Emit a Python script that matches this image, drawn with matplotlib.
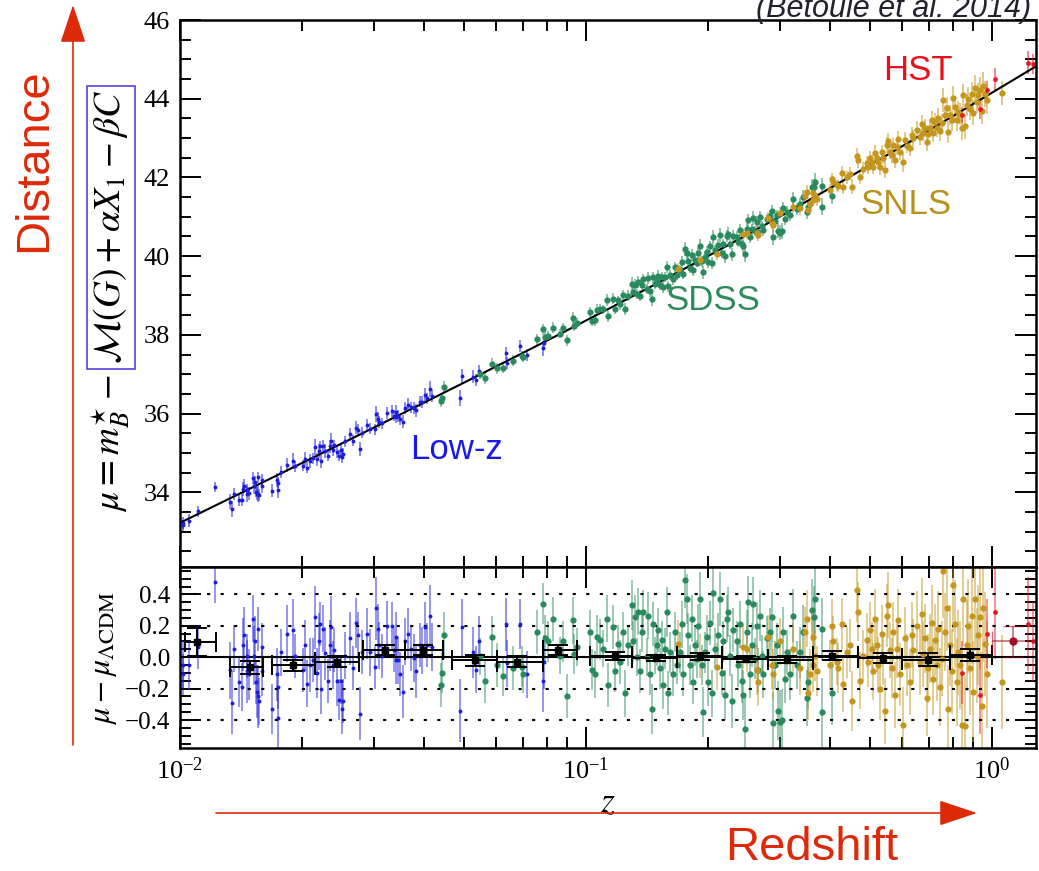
import numpy as np
import matplotlib
matplotlib.use("Agg")
import matplotlib.pyplot as plt
from matplotlib.ticker import MultipleLocator, NullFormatter
from matplotlib.colors import to_rgba

plt.rcParams["font.family"] = "serif"
plt.rcParams["font.serif"] = ["Liberation Serif", "DejaVu Serif"]
plt.rcParams["mathtext.fontset"] = "stix"

# Low-z sample: redshift, Hubble residual, error
lowz_z = [0.0102, 0.0102, 0.0105, 0.0111, 0.0122, 0.0133, 0.0134, 0.0136, 0.0140, 0.0142,
          0.0143, 0.0144, 0.0146, 0.0146, 0.0148, 0.0151, 0.0152, 0.0153, 0.0154, 0.0155,
          0.0156, 0.0156, 0.0157, 0.0159, 0.0159, 0.0169, 0.0173, 0.0174, 0.0174, 0.0177,
          0.0183, 0.0190, 0.0192, 0.0201, 0.0203, 0.0205, 0.0209, 0.0213, 0.0215, 0.0218,
          0.0220, 0.0221, 0.0223, 0.0225, 0.0227, 0.0232, 0.0234, 0.0236, 0.0238, 0.0240,
          0.0244, 0.0246, 0.0249, 0.0250, 0.0252, 0.0255, 0.0263, 0.0267, 0.0272, 0.0274,
          0.0277, 0.0280, 0.0289, 0.0293, 0.0302, 0.0304, 0.0307, 0.0310, 0.0314, 0.0324,
          0.0332, 0.0337, 0.0341, 0.0340, 0.0345, 0.0348, 0.0355, 0.0358, 0.0365, 0.0370,
          0.0376, 0.0381, 0.0389, 0.0394, 0.0401, 0.0405, 0.0414, 0.0417, 0.0490, 0.0494,
          0.0528, 0.0536, 0.0546, 0.0634, 0.0638, 0.0688, 0.0714, 0.0785, 0.0788]
lowz_res = [-0.05, -0.11, -0.05, 0.065, 0.478, -0.083, -0.29, 0.055, -0.157, -0.19,
            0.08, 0.14, -0.09, 0.01, -0.11, 0.245, 0.01, 0.10, -0.16, -0.22,
            0.18, -0.25, -0.28, -0.09, 0.065, -0.33, -0.11, -0.19, -0.39, 0.03,
            0.15, 0.17, 0.01, -0.08, 0.075, -0.17, -0.05, -0.02, 0.255, -0.10,
            0.10, 0.21, -0.20, 0.18, 0.025, -0.15, 0.075, 0.19, -0.05, 0.045,
            -0.15, -0.27, -0.15, -0.33, -0.28, 0.01, 0.12, -0.07, 0.22, 0.14,
            -0.36, 0.03, 0.15, 0.03, -0.06, 0.31, 0.18, 0.075, 0.01, 0.20,
            0.20, 0.045, -0.02, 0.13, -0.02, -0.11, -0.22, 0.10, 0.15, 0.055,
            -0.005, -0.09, 0.075, 0.045, 0.19, 0.075, 0.26, 0.065, -0.34, 0.19,
            0.03, -0.08, 0.10, 0.21, -0.04, 0.21, -0.11, -0.15, -0.03]
lowz_err = [0.15, 0.13, 0.16, 0.14, 0.13, 0.18, 0.20, 0.15, 0.16, 0.15,
            0.17, 0.18, 0.20, 0.14, 0.16, 0.15, 0.19, 0.16, 0.14, 0.17,
            0.14, 0.20, 0.15, 0.16, 0.15, 0.16, 0.17, 0.14, 0.20, 0.15,
            0.18, 0.20, 0.14, 0.14, 0.16, 0.15, 0.17, 0.14, 0.20, 0.16,
            0.18, 0.14, 0.16, 0.15, 0.17, 0.14, 0.16, 0.20, 0.15, 0.14,
            0.16, 0.13, 0.15, 0.16, 0.14, 0.15, 0.17, 0.14, 0.16, 0.15,
            0.17, 0.14, 0.16, 0.15, 0.14, 0.20, 0.16, 0.15, 0.14, 0.16,
            0.15, 0.14, 0.15, 0.16, 0.15, 0.14, 0.17, 0.15, 0.16, 0.14,
            0.15, 0.17, 0.14, 0.15, 0.16, 0.14, 0.20, 0.15, 0.20, 0.18,
            0.16, 0.15, 0.16, 0.17, 0.15, 0.16, 0.15, 0.20, 0.17]

# SDSS sample
sdss_z = [0.0439, 0.0441, 0.0446, 0.0548, 0.0564, 0.0586, 0.0603, 0.0626, 0.0662, 0.0695,
          0.0699, 0.0757, 0.0782, 0.0793, 0.0808, 0.0831, 0.0863, 0.0879, 0.0897, 0.0927,
          0.0934, 0.0949, 0.1023, 0.1033, 0.1052, 0.1062, 0.1083, 0.1103, 0.1124, 0.1135,
          0.1168, 0.1179, 0.1202, 0.1213, 0.1236, 0.1248, 0.1272, 0.1296, 0.1308, 0.1320,
          0.1333, 0.1345, 0.1358, 0.1371, 0.1384, 0.1410, 0.1423, 0.1437, 0.1451, 0.1465,
          0.1479, 0.1493, 0.1507, 0.1522, 0.1536, 0.1551, 0.1565, 0.1580, 0.1595, 0.1610,
          0.1641, 0.1657, 0.1672, 0.1704, 0.1721, 0.1737, 0.1754, 0.1770, 0.1786, 0.1804,
          0.1821, 0.1838, 0.1855, 0.1873, 0.1891, 0.1909, 0.1927, 0.1945, 0.1963, 0.1982,
          0.2001, 0.2020, 0.2039, 0.2058, 0.2078, 0.2117, 0.2138, 0.2158, 0.2178, 0.2199,
          0.2220, 0.2241, 0.2262, 0.2284, 0.2306, 0.2350, 0.2372, 0.2395, 0.2418, 0.2440,
          0.2464, 0.2487, 0.2511, 0.2534, 0.2558, 0.2583, 0.2607, 0.2632, 0.2657, 0.2682,
          0.2707, 0.2733, 0.2785, 0.2839, 0.2866, 0.2893, 0.2921, 0.2948, 0.2976, 0.3005,
          0.3033, 0.3062, 0.3091, 0.3120, 0.3180, 0.3241, 0.3303, 0.3366, 0.3430, 0.3496,
          0.3529, 0.3596, 0.3643, 0.3664, 0.3805, 0.3805, 0.4028]
sdss_res = [-0.18, -0.10, 0.14, 0.005, -0.15, 0.13, -0.05, -0.12, -0.07, -0.06,
            -0.11, 0.16, 0.34, 0.12, 0.10, 0.245, 0.01, 0.10, -0.25, 0.235,
            0.02, 0.065, 0.16, -0.08, -0.11, 0.13, 0.11, 0.055, 0.245, -0.18,
            0.19, -0.09, 0.085, -0.03, 0.16, -0.23, 0.075, 0.33, 0.10, 0.255,
            0.0, 0.29, -0.09, 0.16, 0.29, 0.0, 0.265, -0.11, -0.33, 0.21,
            0.01, 0.075, 0.17, -0.07, 0.11, -0.18, 0.055, 0.29, -0.23, 0.03,
            -0.11, 0.16, -0.05, 0.03, 0.21, -0.11, 0.49, 0.37, 0.14, -0.05,
            0.245, -0.16, 0.075, -0.01, 0.20, 0.37, -0.05, -0.35, 0.03, 0.13,
            -0.16, 0.22, -0.23, 0.41, 0.055, 0.14, 0.37, -0.10, 0.10, -0.24,
            0.245, 0.29, 0.01, -0.28, 0.17, 0.10, -0.05, 0.21, -0.15, -0.24,
            -0.46, 0.16, 0.35, -0.11, 0.075, 0.34, -0.01, 0.20, -0.08, 0.265,
            0.01, -0.11, 0.12, 0.16, 0.255, -0.42, -0.05, 0.075, -0.34, -0.41,
            -0.40, 0.16, -0.14, 0.03, -0.11, 0.265, -0.05, 0.03, 0.16, -0.26,
            -0.16, 0.30, 0.255, 0.37, 0.18, -0.35, -0.23]
sdss_err = [0.14, 0.13, 0.15, 0.12, 0.14, 0.13, 0.14, 0.13, 0.14, 0.13,
            0.12, 0.14, 0.13, 0.15, 0.13, 0.14, 0.12, 0.13, 0.14, 0.15,
            0.13, 0.12, 0.14, 0.13, 0.15, 0.14, 0.13, 0.12, 0.15, 0.14,
            0.14, 0.13, 0.12, 0.14, 0.13, 0.15, 0.13, 0.16, 0.13, 0.14,
            0.12, 0.15, 0.14, 0.13, 0.14, 0.12, 0.15, 0.13, 0.16, 0.14,
            0.12, 0.13, 0.14, 0.13, 0.12, 0.15, 0.13, 0.16, 0.14, 0.13,
            0.14, 0.13, 0.12, 0.13, 0.15, 0.14, 0.18, 0.16, 0.14, 0.13,
            0.15, 0.14, 0.13, 0.12, 0.14, 0.17, 0.13, 0.16, 0.13, 0.14,
            0.15, 0.14, 0.15, 0.18, 0.13, 0.14, 0.17, 0.14, 0.13, 0.16,
            0.15, 0.16, 0.13, 0.17, 0.14, 0.13, 0.14, 0.15, 0.14, 0.16,
            0.20, 0.14, 0.17, 0.15, 0.14, 0.17, 0.13, 0.15, 0.14, 0.16,
            0.13, 0.15, 0.14, 0.15, 0.16, 0.20, 0.15, 0.14, 0.19, 0.20,
            0.20, 0.16, 0.15, 0.14, 0.16, 0.17, 0.15, 0.16, 0.17, 0.18,
            0.17, 0.20, 0.20, 0.22, 0.20, 0.22, 0.20]

# SNLS sample
snls_z = [0.1688, 0.1909, 0.2098, 0.2440, 0.2487, 0.2632, 0.2657, 0.2811, 0.2866, 0.2893,
          0.3005, 0.3241, 0.3366, 0.3463, 0.3496, 0.3529, 0.3563, 0.3630, 0.3664, 0.3630,
          0.3699, 0.3990, 0.4028, 0.4066, 0.4144, 0.4183, 0.4263, 0.4303, 0.4385, 0.4469,
          0.4511, 0.4640, 0.4684, 0.4729, 0.4819, 0.4911, 0.4958, 0.5005, 0.5052, 0.5100,
          0.5148, 0.5197, 0.5248, 0.5297, 0.5347, 0.5398, 0.5449, 0.5501, 0.5553, 0.5606,
          0.5659, 0.5713, 0.5768, 0.5822, 0.5878, 0.5934, 0.6048, 0.6105, 0.6163, 0.6281,
          0.6340, 0.6400, 0.6522, 0.6646, 0.6709, 0.6773, 0.6837, 0.6902, 0.6967, 0.7034,
          0.7100, 0.7168, 0.7236, 0.7304, 0.7373, 0.7443, 0.7514, 0.7586, 0.7659, 0.7731,
          0.7805, 0.7879, 0.7954, 0.8029, 0.8106, 0.8183, 0.8260, 0.8339, 0.8418, 0.8498,
          0.8579, 0.8660, 0.8742, 0.8825, 0.8909, 0.8994, 0.9079, 0.9166, 0.9254, 0.9342,
          0.9430, 0.9519, 0.9610, 0.9701, 1.0560]
snls_res = [0.085, 0.01, -0.06, 0.065, 0.055, -0.08, -0.16, 0.13, -0.05, -0.11,
            0.10, 0.055, -0.07, 0.16, 0.245, -0.23, -0.11, 0.13, 0.01, -0.05,
            -0.09, -0.05, 0.20, 0.10, -0.03, -0.07, 0.21, -0.17, 0.03, 0.075,
            -0.28, 0.425, 0.29, -0.15, 0.01, 0.11, -0.03, 0.17, 0.055, -0.09,
            0.245, 0.075, -0.05, -0.20, 0.15, -0.01, -0.34, 0.265, 0.33, 0.045,
            -0.07, 0.16, -0.24, 0.055, 0.235, -0.11, -0.43, 0.12, -0.05, -0.16,
            0.14, 0.045, 0.20, -0.03, 0.275, 0.02, 0.12, -0.26, -0.07, 0.055,
            0.22, -0.14, 0.11, -0.05, 0.18, -0.19, -0.01, 0.55, 0.16, 0.31,
            -0.33, 0.075, -0.09, 0.46, 0.21, -0.16, 0.03, -0.05, -0.43, 0.37,
            -0.44, 0.075, 0.20, -0.07, 0.265, -0.22, 0.37, 0.01, 0.14, 0.255,
            -0.31, 0.31, 0.085, -0.11, -0.16]
snls_err = [0.15, 0.14, 0.15, 0.14, 0.15, 0.16, 0.15, 0.14, 0.15, 0.16,
            0.15, 0.16, 0.17, 0.16, 0.18, 0.17, 0.16, 0.17, 0.16, 0.17,
            0.16, 0.16, 0.17, 0.16, 0.15, 0.16, 0.17, 0.18, 0.16, 0.17,
            0.19, 0.20, 0.19, 0.18, 0.16, 0.17, 0.16, 0.18, 0.17, 0.18,
            0.19, 0.17, 0.18, 0.20, 0.18, 0.17, 0.21, 0.20, 0.21, 0.18,
            0.19, 0.19, 0.21, 0.19, 0.20, 0.20, 0.24, 0.20, 0.20, 0.21,
            0.21, 0.20, 0.22, 0.21, 0.23, 0.21, 0.22, 0.24, 0.22, 0.22,
            0.24, 0.23, 0.23, 0.23, 0.24, 0.25, 0.24, 0.30, 0.25, 0.27,
            0.28, 0.26, 0.27, 0.30, 0.28, 0.28, 0.27, 0.28, 0.32, 0.30,
            0.32, 0.29, 0.30, 0.30, 0.31, 0.32, 0.33, 0.30, 0.32, 0.33,
            0.34, 0.34, 0.33, 0.34, 0.30]

# HST sample
hst_z = [0.842, 0.934, 0.970, 1.017, 1.229, 1.264]
hst_res = [-0.10, -0.24, 0.15, 0.29, 0.21, 0.10]
hst_err = [0.20, 0.25, 0.22, 0.30, 0.30, 0.25]

# binned residuals
bin_z = [0.0110, 0.01486, 0.01897, 0.0244, 0.0320, 0.0397, 0.0533, 0.0676, 0.0853,
         0.1178, 0.1486, 0.191, 0.248, 0.313, 0.404, 0.540, 0.695, 0.883]
bin_lo = [0.0103, 0.0133, 0.0169, 0.0215, 0.0283, 0.0358, 0.0467, 0.0603, 0.0784,
          0.1022, 0.1297, 0.1673, 0.2164, 0.2803, 0.3619, 0.4669, 0.5986, 0.7861]
bin_hi = [0.0123, 0.0160, 0.0215, 0.0276, 0.0358, 0.0445, 0.0603, 0.0784, 0.0950,
          0.1297, 0.1673, 0.2164, 0.2803, 0.3619, 0.4669, 0.5986, 0.7861, 1.0]
bin_res = [0.095, -0.064, -0.05, -0.03, 0.045, 0.045, -0.02, -0.03, 0.045,
           0.01, -0.005, 0.005, -0.01, -0.015, 0.01, -0.005, -0.015, 0.015]
bin_err = [0.09, 0.04, 0.035, 0.035, 0.03, 0.03, 0.035, 0.035, 0.03,
           0.025, 0.02, 0.02, 0.02, 0.025, 0.03, 0.03, 0.04, 0.04]
hst_bin = [1.127, 1.0, 1.30, 0.10, 0.10]  # z, lo, hi, res, err


def mu_lcdm(z, h0=68.5, om=0.295):
    c = 299792.458
    out = []
    for zi in np.atleast_1d(z):
        zz = np.linspace(0, zi, 400)
        ez = np.sqrt(om * (1 + zz) ** 3 + 1 - om)
        dc = np.trapezoid(1 / ez, zz) * c / h0
        out.append(5 * np.log10((1 + zi) * dc) + 25)
    return np.array(out)


fig = plt.figure(figsize=(10.39, 8.71), dpi=100)
ax1 = fig.add_axes([0.1732, 0.349, 0.8239, 0.628])
ax2 = fig.add_axes([0.1732, 0.1412, 0.8239, 0.2078])

surveys = [
    (lowz_z, lowz_res, lowz_err, "#1c1cdc", 2.8),
    (sdss_z, sdss_res, sdss_err, "#2a8a5e", 4.5),
    (snls_z, snls_res, snls_err, "#c4961e", 4.5),
    (hst_z, hst_res, hst_err, "#e8141e", 3.4),
]
for z, res, err, col, ms in surveys:
    z = np.array(z)
    res = np.array(res)
    ax1.errorbar(z, mu_lcdm(z) + res, yerr=err, fmt="o", ms=ms, color=col,
                 mec="none", ecolor=to_rgba(col, 0.6), elinewidth=1.2)
    ax2.errorbar(z, res, yerr=err, fmt="o", ms=ms, color=col,
                 mec="none", ecolor=to_rgba(col, 0.55), elinewidth=1.2)

zgrid = np.logspace(-2, np.log10(1.3), 300)
ax1.plot(zgrid, mu_lcdm(zgrid), color="k", lw=1.5)

ax2.axhline(0, color="k", lw=1.5)
for v in (-0.4, -0.2, 0.2, 0.4):
    ax2.axhline(v, color="k", lw=1.5, ls=(0, (1.5, 5)))

bz = np.array(bin_z)
ax2.errorbar(bz, bin_res, xerr=[bz - np.array(bin_lo), np.array(bin_hi) - bz],
             yerr=bin_err, fmt="s", ms=4.5, color="k", capsize=7,
             elinewidth=1.4, capthick=1.4, zorder=5)
ax2.errorbar([hst_bin[0]], [hst_bin[3]],
             xerr=[[hst_bin[0] - hst_bin[1]], [hst_bin[2] - hst_bin[0]]],
             yerr=[hst_bin[4]], fmt="o", ms=5, color="#a01020",
             ecolor=to_rgba("#a01020", 0.6), capsize=7, elinewidth=1.2, zorder=5)

for ax in (ax1, ax2):
    ax.set_xscale("log")
    ax.set_xlim(0.01, 1.283)
    ax.tick_params(which="both", direction="in", top=True, right=True, width=1.4)
    ax.tick_params(which="major", length=15)
    ax.tick_params(which="minor", length=8)
    ax.xaxis.set_minor_formatter(NullFormatter())
    for s in ax.spines.values():
        s.set_linewidth(1.8)

ax1.set_ylim(32.1, 46)
ax1.yaxis.set_major_locator(MultipleLocator(2))
ax1.yaxis.set_minor_locator(MultipleLocator(0.5))
ax1.tick_params(labelbottom=False, labelsize=19, pad=7)

ax2.set_ylim(-0.578, 0.574)
ax2.yaxis.set_major_locator(MultipleLocator(0.2))
ax2.yaxis.set_minor_locator(MultipleLocator(0.05))
ax2.tick_params(axis="y", labelsize=18, pad=7)
ax2.tick_params(axis="x", labelsize=19, pad=7)
ax2.set_xlabel("$z$", fontsize=26, labelpad=2)
ax2.set_ylabel(r"$\mu - \mu_{\Lambda\mathrm{CDM}}$", fontsize=23)
ax2.yaxis.set_label_coords(-0.071, 0.5)

# survey labels
sans = ["Liberation Sans", "DejaVu Sans"]
ax1.text(0.862, 0.907, "HST", transform=ax1.transAxes, color="#e8101a",
         fontsize=25, family=sans, ha="center", va="center")
ax1.text(0.848, 0.662, "SNLS", transform=ax1.transAxes, color="#b8901e",
         fontsize=25, family=sans, ha="center", va="center")
ax1.text(0.623, 0.488, "SDSS", transform=ax1.transAxes, color="#2e8b5c",
         fontsize=25, family=sans, ha="center", va="center")
ax1.text(0.3236, 0.2157, "Low-z", transform=ax1.transAxes, color="#1a1ae8",
         fontsize=25, family=sans, ha="center", va="center")

# top y label, boxed part placed after the first part
W, H = 1039, 871
tA = fig.text(120 / W, (H - 512) / H, r"$\mu = m_B^{\star} -$", rotation=90,
              rotation_mode="anchor", ha="left", va="baseline", fontsize=27)
fig.canvas.draw()
bb = tA.get_window_extent(fig.canvas.get_renderer())
fig.text(120 / W, (bb.y1 + 10) / H, r"$\mathcal{M}(G) + \alpha X_1 - \beta C$",
         rotation=90, rotation_mode="anchor", ha="left", va="baseline", fontsize=27,
         bbox=dict(boxstyle="square,pad=0.12", fc="none", ec="#5a3ee0", lw=1.2))

red = "#dd2a0a"
fig.text(34 / W, (H - 160) / H, "Distance", rotation=90, color=red, fontsize=34,
         family=sans, ha="center", va="center")
fig.text(812 / W, 11 / H, "Redshift", color=red, fontsize=34, family=sans,
         ha="center", va="baseline")
fig.text(1031 / W, (H - 17) / H, "(Betoule et al. 2014)", color="#22222e",
         fontsize=22, family=sans, style="italic", ha="right", va="baseline")

arrow = dict(arrowstyle="-|>,head_length=0.6,head_width=0.2", mutation_scale=40,
             color=red, lw=1.2, shrinkA=0, shrinkB=0)
fig.add_artist(plt.Annotation("", xy=(73, H - 5), xytext=(73, H - 745),
                              xycoords="figure pixels", textcoords="figure pixels",
                              arrowprops=arrow))
fig.add_artist(plt.Annotation("", xy=(977, 58), xytext=(216, 58),
                              xycoords="figure pixels", textcoords="figure pixels",
                              arrowprops=arrow))

fig.savefig("out.png", dpi=100)
